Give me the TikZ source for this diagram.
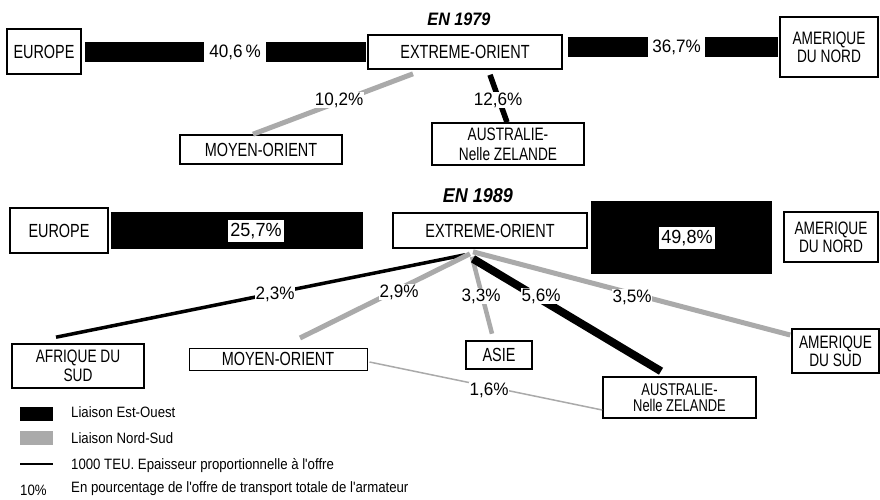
\documentclass[tikz,border=0pt]{standalone}
\usepackage{fontspec}
\setmainfont[FakeStretch=0.76]{Liberation Sans}
\newfontfamily\numfont[FakeStretch=0.95]{Liberation Sans}
\newfontfamily\ttlfont[FakeStretch=0.9]{Liberation Sans}
\newfontfamily\legfont[FakeStretch=0.88]{Liberation Sans}
\definecolor{nsgray}{RGB}{170,170,170}
\begin{document}
\begin{tikzpicture}[x=1pt,y=-1pt,
 box/.style={draw=black,line width=1.6pt,fill=white,inner sep=0pt,align=center,font=\fontsize{19}{17}\selectfont},
 twoline/.style={font=\fontsize{18}{18}\selectfont},
 pct/.style={fill=white,inner sep=1pt,font=\numfont\fontsize{18}{18}\selectfont},
 bigpct/.style={fill=white,inner xsep=2pt,inner ysep=3pt,font=\numfont\fontsize{19}{19}\selectfont},
 eoline/.style={draw=black,line cap=butt},
 nsline/.style={draw=nsgray,line cap=butt},
 ttl/.style={font=\ttlfont\bfseries\itshape\fontsize{18}{18}\selectfont},
 leg/.style={anchor=base west,inner sep=0pt,font=\legfont\fontsize{15}{15}\selectfont},
 swatch/.style={inner sep=0pt,minimum width=33pt,minimum height=14pt}]

\fill[white] (0,0) rectangle (880,499);
\useasboundingbox (0,0) rectangle (880,499);

% ---------------- 1979 ----------------
\node[ttl] (t79) at (459,19) {EN 1979};
\node[box,minimum width=74pt,minimum height=45pt] (eu1) at (44,51.5) {EUROPE};
\node[box,minimum width=194pt,minimum height=34pt] (eo1) at (465,52) {EXTREME-ORIENT};
\node[box,twoline,minimum width=98pt,minimum height=60pt] (na1) at (829,47) {AMERIQUE\\DU NORD};
\node[box,minimum width=162pt,minimum height=29pt] (mo1) at (261,149.5) {MOYEN-ORIENT};
\node[box,minimum width=152pt,minimum height=42pt,font=\fontsize{18}{20}\selectfont] (au1) at (508,144) {AUSTRALIE-\\Nelle ZELANDE};

\draw[eoline,line width=20pt,shorten <=3pt,shorten >=1pt] (eu1.east |- eo1.west) -- (eo1.west);
\draw[eoline,line width=20pt,shorten <=5pt,shorten >=1pt] (eo1.east |- na1.west) -- (na1.west);
\draw[nsline,line width=5pt] ([shift={(-52,4)}]eo1.south) -- ([shift={(-8,0)}]mo1.north);
\draw[eoline,line width=5.5pt] ([shift={(25,5)}]eo1.south) -- ([shift={(-1,0)}]au1.north);

\node[pct,minimum width=62pt,minimum height=22pt] (p406) at (235,52) {40,6\,\%};
\node[pct,minimum width=57pt,minimum height=22pt] (p367) at (676.5,47) {36,7\%};
\node[pct] (p102) at (339,100) {10,2\%};
\node[pct] (p126) at (498,100) {12,6\%};

% ---------------- 1989 ----------------
\node[ttl,font=\ttlfont\bfseries\itshape\fontsize{20}{20}\selectfont] (t89) at (478,196) {EN 1989};
\node[box,minimum width=98pt,minimum height=45pt] (eu2) at (59,230.5) {EUROPE};
\node[box,minimum width=194pt,minimum height=35pt] (eo2) at (490,230.5) {EXTREME-ORIENT};
\node[box,twoline,minimum width=94pt,minimum height=50pt] (na2) at (831,237) {AMERIQUE\\DU NORD};
\node[box,minimum width=132pt,minimum height=44pt,font=\fontsize{18}{19}\selectfont] (af2) at (78,366) {AFRIQUE DU\\SUD};
\node[box,line width=1pt,minimum width=178pt,minimum height=22pt] (mo2) at (278,359) {MOYEN-ORIENT};
\node[box,minimum width=66pt,minimum height=28pt] (as2) at (499,355) {ASIE};
\node[box,minimum width=153pt,minimum height=41pt,font=\fontsize{17}{16}\selectfont] (au2) at (679.5,397.5) {AUSTRALIE-\\Nelle ZELANDE};
\node[box,twoline,minimum width=87pt,minimum height=44pt] (sa2) at (835.5,351) {AMERIQUE\\DU SUD};

\draw[eoline,line width=37pt,shorten <=2pt,shorten >=29pt] (eu2.east) -- (eo2.west);
\draw[eoline,line width=73pt,shorten <=3pt,shorten >=11pt] (eo2.east |- na2.west) -- (na2.west);

\draw[eoline,line width=3.5pt] ([shift={(-25,6)}]eo2.south) -- ([shift={(-22,-6)}]af2.north);
\draw[nsline,line width=5pt] ([shift={(-20,5)}]eo2.south) -- ([shift={(22,-9.5)}]mo2.north);
\draw[nsline,line width=4.5pt] ([shift={(-18,8)}]eo2.south) -- ([shift={(-7,-6.5)}]as2.north);
\draw[nsline,line width=5pt] ([shift={(-17,3)}]eo2.south) -- ([shift={(-1,-16)}]sa2.west);
\draw[eoline,line width=8pt] ([shift={(-17,10)}]eo2.south) -- ([shift={(-18.5,-5)}]au2.north);
\draw[nsline,line width=1.5pt] ([shift={(2,3)}]mo2.east) -- ([shift={(0,12.5)}]au2.west);

\node[bigpct] (p257) at (256,231) {25,7\%};
\node[bigpct] (p498) at (687,238) {49,8\%};
\node[pct] (p23) at (275,294) {2,3\%};
\node[pct] (p29) at (399,292) {2,9\%};
\node[pct] (p33) at (481,296) {3,3\%};
\node[pct] (p56) at (541,296) {5,6\%};
\node[pct] (p35) at (632,297) {3,5\%};
\node[pct] (p16) at (489,390) {1,6\%};

% ---------------- legend ----------------
\node[swatch,fill=black] (k1) at (36.5,413.5) {};
\node[leg] (k1t) at (71,417) {Liaison Est-Ouest};
\node[swatch,fill=nsgray] (k2) at (36.5,438) {};
\node[leg] (k2t) at (71,443) {Liaison Nord-Sud};
\coordinate (k3a) at (20,464);
\coordinate (k3b) at (53,464);
\draw[line width=2pt] (k3a) -- (k3b);
\node[leg] (k3t) at (71,469) {1000 TEU. Epaisseur proportionnelle à l'offre};
\node[leg] (k4) at (20,495) {10\%};
\node[leg] (k4t) at (71,492) {En pourcentage de l'offre de transport totale de l'armateur};
\end{tikzpicture}
\end{document}
